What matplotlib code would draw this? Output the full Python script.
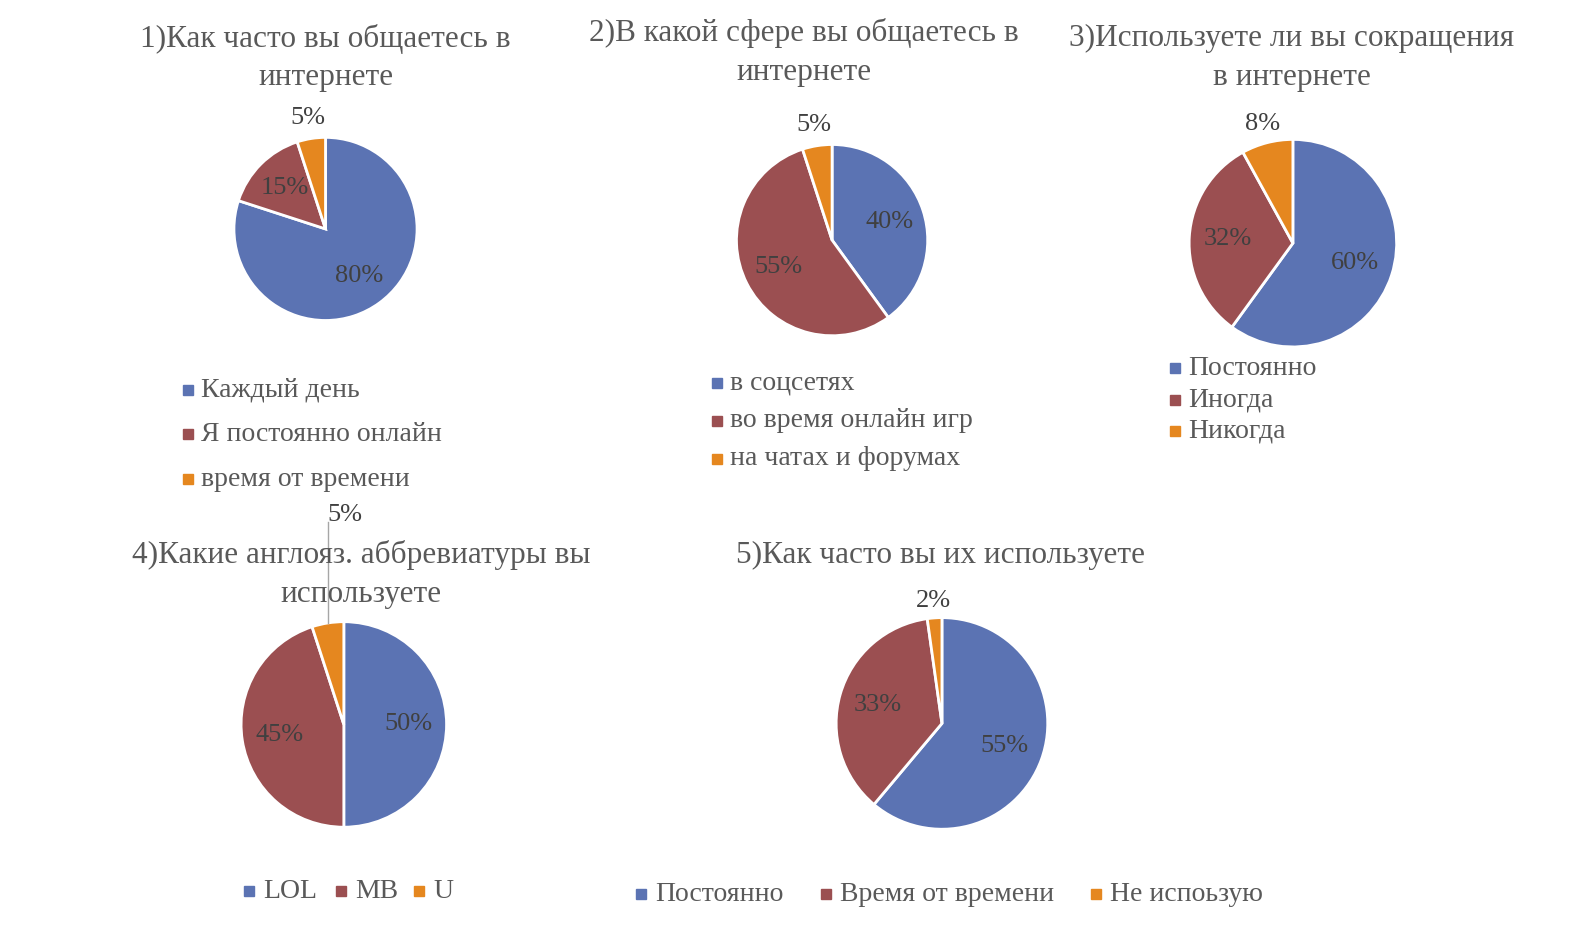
import numpy as np
from matplotlib import pyplot as plt
from matplotlib.lines import Line2D

plt.rcParams["font.family"] = ["Liberation Serif", "DejaVu Serif"]

# ===данные
q1_title = "1)Как часто вы общаетесь в\nинтернете"
q1_labels = ["Каждый день", "Я постоянно онлайн", "время от времени"]
q1_values = [80, 15, 5]

q2_title = "2)В какой сфере вы общаетесь в\nинтернете"
q2_labels = ["в соцсетях", "во время онлайн игр", "на чатах и форумах"]
q2_values = [40, 55, 5]

q3_title = "3)Используете ли вы сокращения\nв интернете"
q3_labels = ["Постоянно", "Иногда", "Никогда"]
q3_values = [60, 32, 8]

q4_title = "4)Какие англояз. аббревиатуры вы\nиспользуете"
q4_labels = ["LOL", "MB", "U"]
q4_values = [50, 45, 5]

q5_title = "5)Как часто вы их используете"
q5_labels = ["Постоянно", "Время от времени", "Не испоьзую"]
q5_values = [55, 33, 2]

COLORS = ["#5b73b3", "#9b4f51", "#e5871f"]
TITLE_C = "#595959"
LABEL_C = "#404040"
W, H = 1568, 915  # layout units (pixels of the shrunk reference)


def fx(x):
    return x / W


def fy(y):
    return 1 - y / H


def draw_pie(fig, cx, cy, r, values, outside_d=1.22, leader=None):
    ax = fig.add_axes([fx(cx - r), fy(cy + r), 2 * r / W, 2 * r / H])
    wedges, _ = ax.pie(
        values,
        colors=COLORS,
        startangle=90,
        counterclock=False,
        radius=1,
        wedgeprops=dict(edgecolor="white", linewidth=2),
    )
    ax.set_xlim(-1, 1)
    ax.set_ylim(-1, 1)
    ax.set_aspect("equal")
    ax.axis("off")
    for w, v in zip(wedges, values):
        mid = np.deg2rad((w.theta1 + w.theta2) / 2)
        if v > 10:
            d = 0.63
            ax.text(d * np.cos(mid), d * np.sin(mid), f"{v}%", ha="center",
                    va="center", fontsize=19, color=LABEL_C)
        elif leader is not None:
            x0, y0 = np.cos(mid), np.sin(mid)
            ax.plot([x0, x0], [y0, leader], color="#a6a6a6", lw=1, clip_on=False)
            ax.text(x0, leader - 0.04, f"{v}%", ha="left", va="bottom",
                    fontsize=19, color=LABEL_C, clip_on=False)
        else:
            ax.text(outside_d * np.cos(mid), outside_d * np.sin(mid), f"{v}%",
                    ha="center", va="center", fontsize=19, color=LABEL_C)
    return ax


def legend_rows(fig, x, y0, dy, labels):
    for i, lab in enumerate(labels):
        y = y0 + i * dy
        fig.add_artist(Line2D([fx(x)], [fy(y)], marker="s", markersize=7.5,
                              color=COLORS[i], linestyle="none"))
        fig.text(fx(x + 13), fy(y), lab, ha="left", va="center",
                 fontsize=20, color=TITLE_C)


def legend_cols(fig, xs, y, labels):
    for i, lab in enumerate(labels):
        fig.add_artist(Line2D([fx(xs[i])], [fy(y)], marker="s", markersize=7.5,
                              color=COLORS[i], linestyle="none"))
        fig.text(fx(xs[i] + 14), fy(y), lab, ha="left", va="center",
                 fontsize=20, color=TITLE_C)


def title(fig, x, y, s):
    fig.text(fx(x), fy(y), s, ha="center", va="center", fontsize=22.5,
             color=TITLE_C, linespacing=1.45)


def main():
    fig = plt.figure(figsize=(15.95, 9.31), dpi=100)

    title(fig, 320, 57, q1_title)
    draw_pie(fig, 320, 225, 90, q1_values, outside_d=1.23)
    legend_rows(fig, 185, 383, 44, q1_labels)

    title(fig, 790, 52, q2_title)
    draw_pie(fig, 818, 236, 94, q2_values, outside_d=1.22)
    legend_rows(fig, 705, 376, 37.5, q2_labels)

    title(fig, 1270, 57, q3_title)
    draw_pie(fig, 1271, 239, 102, q3_values, outside_d=1.19)
    legend_rows(fig, 1155, 362, 31, q3_labels)

    title(fig, 355, 565, q4_title)
    draw_pie(fig, 338, 712, 101, q4_values, leader=1.97)
    legend_cols(fig, [245, 335, 412], 876, q4_labels)

    title(fig, 925, 546, q5_title)
    draw_pie(fig, 926, 711, 104, q5_values, outside_d=1.16)
    legend_cols(fig, [630, 812, 1077], 879, q5_labels)

    fig.savefig("out.png", dpi=100)


if __name__ == "__main__":
    main()
